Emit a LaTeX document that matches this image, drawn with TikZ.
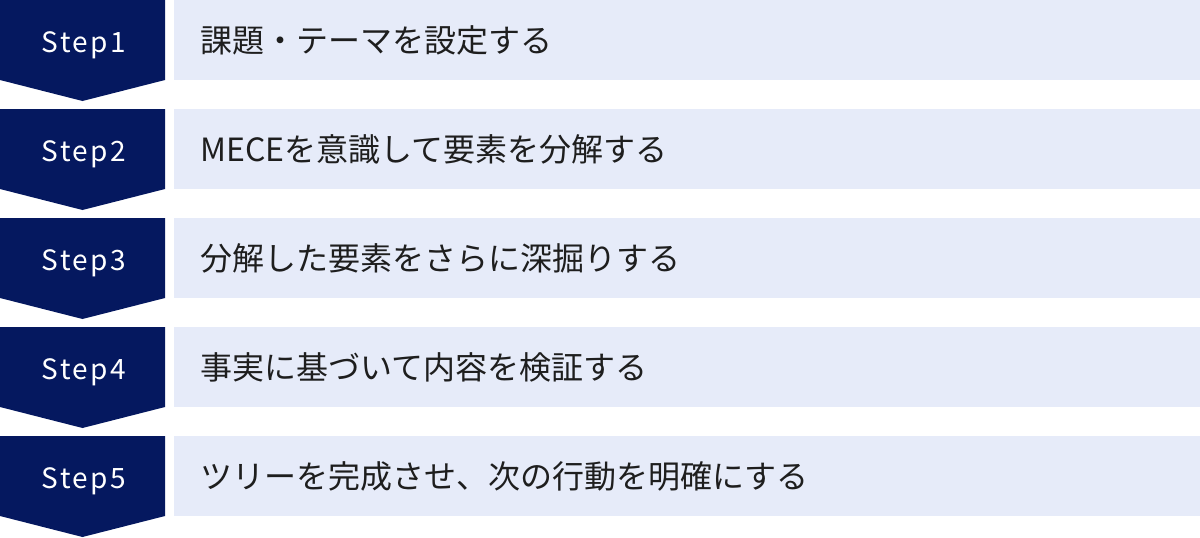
\documentclass[tikz,border=0pt]{standalone}
\usepackage{fontspec}
\setmainfont{Noto Sans CJK JP}
\newfontfamily\stepfont[LetterSpace=9]{Noto Sans CJK JP}
\definecolor{navy}{HTML}{05185F}
\definecolor{boxbg}{HTML}{E6EBF9}
\definecolor{txt}{HTML}{1E1E1E}
\tikzset{
  chevron/.style={fill=navy, draw=none},
  itembox/.style={fill=boxbg, draw=none},
  steplabel/.style={text=white, font=\stepfont\fontsize{28}{28}\selectfont, inner sep=0pt, anchor=base},
  itemtext/.style={text=txt, font=\fontsize{32}{32}\selectfont, anchor=west, inner sep=0pt},
}
\begin{document}
\begin{tikzpicture}[x=1pt,y=-1pt]
\useasboundingbox (0,0) rectangle (1200,538);
\foreach \i/\t in {0/課題・テーマを設定する,1/MECEを意識して要素を分解する,2/分解した要素をさらに深掘りする,3/事実に基づいて内容を検証する,4/ツリーを完成させ、次の行動を明確にする}{
  \pgfmathsetmacro{\T}{109*\i}
  \pgfmathtruncatemacro{\n}{\i+1}
  \fill[chevron] (0,\T) -- (165,\T) -- (165,\T+80) -- (82.5,\T+101) -- (0,\T+80) -- cycle;
  \fill[itembox] (174,\T) rectangle (1200,\T+80);
  \node[steplabel] (s\n) at (84,\T+52) {Step\n};
  \node[itemtext] (t\n) at (200,\T+40) {\t};
}
\end{tikzpicture}
\end{document}
